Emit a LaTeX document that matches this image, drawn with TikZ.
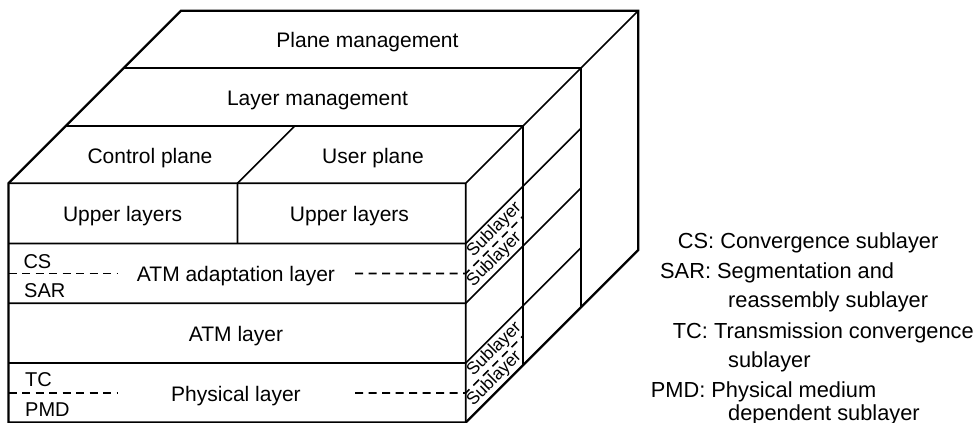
\documentclass[tikz,border=0pt]{standalone}
\usepackage{fontspec}
\setmainfont{Liberation Sans}
\usetikzlibrary{calc}
\tikzset{edge/.style={line width=1.7pt, line join=miter},
rim/.style={edge, line width=2.2pt},
split/.style={line width=1.6pt, dash pattern=on 8pt off 5.5pt},
layer/.style={inner sep=0pt, anchor=base, font=\fontsize{21}{25}\selectfont},
tag/.style={inner sep=0pt, anchor=base west, font=\fontsize{20}{24}\selectfont},
sublayer/.style={inner sep=0pt, rotate=45, font=\fontsize{17.5}{20}\selectfont},
key/.style={inner sep=0pt, anchor=base west, font=\fontsize{21.8}{26}\selectfont}}

\begin{document}
\begin{tikzpicture}[x=1pt,y=-1pt]
  \useasboundingbox (0,0) rectangle (978,423);
  \coordinate (ftl) at (8.5,183.3);
  \coordinate (ftr) at (465.7,183.3);
  \coordinate (fbl) at (8.5,422.5);
  \coordinate (fbr) at (465.7,422.5);
  \coordinate (btl) at (181,10.8);
  \coordinate (btr) at (638.2,10.8);
  \coordinate (bbr) at (638.2,250);
  \draw [rim] (ftl) -- (btl) -- (btr) -- (bbr) -- (fbr) -- (fbl) -- cycle;
  \draw [edge] (ftl) -- (ftr) -- (fbr) (ftr) -- (btr);
  \foreach \k in {1,2}
    \draw [edge] ($(ftl)!\k/3!(btl)$) -- ($(ftr)!\k/3!(btr)$) -- ($(fbr)!\k/3!(bbr)$);
  \foreach \y in {243.5,303.3,363}
    \draw [edge] (8.5,\y) -- (465.7,\y) -- ++(115,-115);
  \foreach \y in {273.5,393} {
    \draw [split] (8.5,\y) -- (118,\y);
    \draw [split] (355,\y) -- (465.7,\y) -- ++(57.5,-57.5);
  }
  \draw [edge] (237.4,243.5) -- (237.4,183.3) -- ++(57.5,-57.5);

  \node (pm) [layer] at (367.5,47) {Plane management};
  \node (lm) [layer] at (317.5,105.5) {Layer management};
  \node (cp) [layer] at (150,163) {Control plane};
  \node (up) [layer] at (373,163) {User plane};
  \node (ul) [layer] at (122.6,221.4) {Upper layers};
  \node (ur) [layer] at (349.5,221.4) {Upper layers};
  \node (aal) [layer] at (236,281.2) {ATM adaptation layer};
  \node (atm) [layer] at (236,341) {ATM layer};
  \node (phy) [layer] at (236,401) {Physical layer};

  \node (cs) [tag] at (23.3,268.3) {CS};
  \node (sar) [tag] at (24,297.3) {SAR};
  \node (tc) [tag] at (25,386.7) {TC};
  \node (pmd) [tag] at (25,416.7) {PMD};

  \node (s1) [sublayer] at (494.5,229.8) {Sublayer};
  \node (s2) [sublayer] at (494.5,259.6) {Sublayer};
  \node (s3) [sublayer] at (494.5,349.3) {Sublayer};
  \node (s4) [sublayer] at (494.5,379) {Sublayer};

  \node (kcs) [key] at (677.7,248) {CS: Convergence sublayer};
  \node (ksar) [key] at (660,278) {SAR: Segmentation and};
  \node (ksar2) [key] at (728,307) {reassembly sublayer};
  \node (ktc) [key] at (672.7,338) {TC: Transmission convergence};
  \node (ktc2) [key] at (728,367) {sublayer};
  \node (kpmd) [key] at (650.7,397) {PMD: Physical medium};
  \node (kpmd2) [key] at (728,420) {dependent sublayer};
\end{tikzpicture}
\end{document}
